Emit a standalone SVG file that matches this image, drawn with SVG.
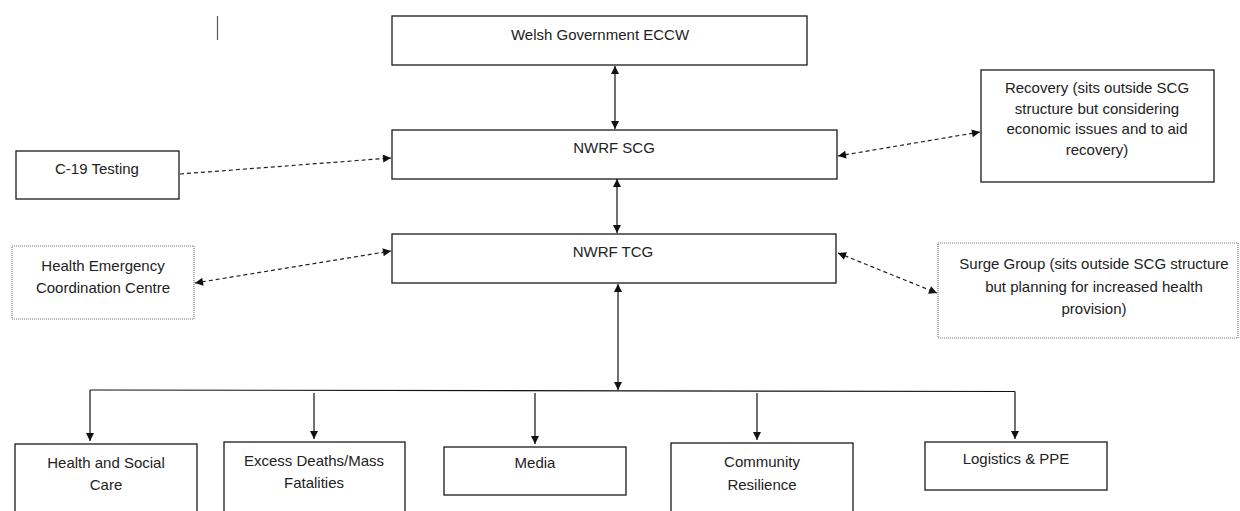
<svg xmlns="http://www.w3.org/2000/svg" width="1240" height="511" viewBox="0 0 1240 511">
<style>
.box{fill:#fff;stroke:#1a1a1a;stroke-width:1.3}
.dot{fill:#fff;stroke:#777;stroke-width:1.2;stroke-dasharray:1 1}
.t{font-family:"Liberation Sans",Arial,sans-serif;font-size:15px;fill:#222;text-anchor:middle}
.c{stroke:#111;stroke-width:1.2;fill:none}
.d{stroke:#222;stroke-width:1.2;fill:none;stroke-dasharray:4 3}
</style>
<defs>
<marker id="ah" viewBox="0 0 10 10" refX="10" refY="5" markerWidth="9" markerHeight="8" markerUnits="userSpaceOnUse" orient="auto-start-reverse">
<path d="M0,0 L10,5 L0,10 z" fill="#111"/>
</marker>
</defs>
<line x1="217.5" y1="16" x2="217.5" y2="40" stroke="#555" stroke-width="1.2"/>
<g id="connectors">
<line class="c" x1="615" y1="66" x2="615" y2="129" marker-start="url(#ah)" marker-end="url(#ah)"/>
<line class="c" x1="617" y1="179" x2="617" y2="233" marker-start="url(#ah)" marker-end="url(#ah)"/>
<line class="c" x1="618" y1="284" x2="618" y2="390" marker-start="url(#ah)" marker-end="url(#ah)"/>
<line class="d" x1="180" y1="174" x2="391" y2="158" marker-end="url(#ah)"/>
<line class="d" x1="195" y1="283" x2="391" y2="251" marker-start="url(#ah)" marker-end="url(#ah)"/>
<line class="d" x1="838" y1="156" x2="980" y2="132" marker-start="url(#ah)" marker-end="url(#ah)"/>
<line class="d" x1="838" y1="253" x2="937" y2="293" marker-start="url(#ah)" marker-end="url(#ah)"/>
<line class="c" x1="90" y1="390" x2="1015" y2="391.5"/>
<line class="c" x1="90" y1="390" x2="90" y2="441" marker-end="url(#ah)"/>
<line class="c" x1="314" y1="393" x2="314" y2="439" marker-end="url(#ah)"/>
<line class="c" x1="535" y1="393" x2="535" y2="444" marker-end="url(#ah)"/>
<line class="c" x1="757" y1="393" x2="757" y2="440" marker-end="url(#ah)"/>
<line class="c" x1="1015" y1="391.5" x2="1015" y2="439" marker-end="url(#ah)"/>
</g>
<g id="welsh"><rect class="box" x="392" y="16" width="415" height="49"/><text class="t" x="600" y="39.5">Welsh Government ECCW</text></g>
<g id="scg"><rect class="box" x="392" y="130" width="445" height="49"/><text class="t" x="614" y="153">NWRF SCG</text></g>
<g id="tcg"><rect class="box" x="392" y="234" width="444" height="49"/><text class="t" x="613" y="257">NWRF TCG</text></g>
<g id="c19"><rect class="box" x="16" y="151" width="163" height="48"/><text class="t" x="97" y="173.5">C-19 Testing</text></g>
<g id="hecc"><rect class="dot" x="12" y="246" width="182" height="73"/><text class="t" x="103" y="270.5">Health Emergency</text><text class="t" x="103" y="292.5">Coordination Centre</text></g>
<g id="recovery"><rect class="box" x="981" y="70" width="233" height="112"/><text class="t" x="1097" y="93">Recovery (sits outside SCG</text><text class="t" x="1097" y="113.5">structure but considering</text><text class="t" x="1097" y="134">economic issues and to aid</text><text class="t" x="1097" y="154.5">recovery)</text></g>
<g id="surge"><rect class="dot" x="938" y="243" width="300" height="95"/><text class="t" x="1094" y="269">Surge Group (sits outside SCG structure</text><text class="t" x="1094" y="291.5">but planning for increased health</text><text class="t" x="1094" y="314">provision)</text></g>
<g id="hsc"><rect class="box" x="15" y="444" width="182" height="80"/><text class="t" x="106" y="468">Health and Social</text><text class="t" x="106" y="490">Care</text></g>
<g id="excess"><rect class="box" x="224" y="442" width="181" height="80"/><text class="t" x="314" y="466">Excess Deaths/Mass</text><text class="t" x="314" y="488">Fatalities</text></g>
<g id="media"><rect class="box" x="444" y="447" width="182" height="48"/><text class="t" x="535" y="468">Media</text></g>
<g id="community"><rect class="box" x="671" y="443" width="182" height="80"/><text class="t" x="762" y="466.5">Community</text><text class="t" x="762" y="489.5">Resilience</text></g>
<g id="logistics"><rect class="box" x="925" y="442" width="182" height="48"/><text class="t" x="1016" y="463.5">Logistics &amp; PPE</text></g>
</svg>
